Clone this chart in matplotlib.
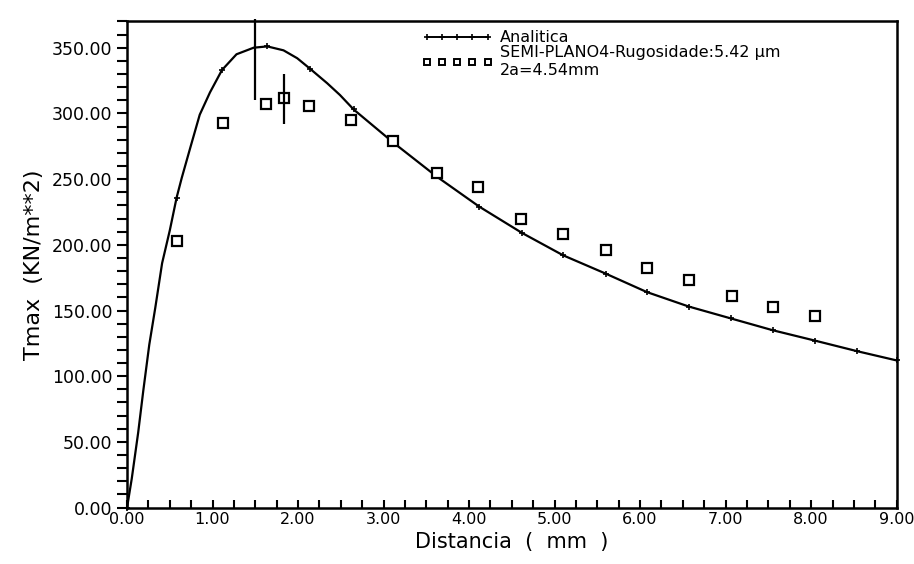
import matplotlib
matplotlib.use("Agg")
import matplotlib.pyplot as plt
from matplotlib.lines import Line2D
from matplotlib.ticker import MultipleLocator, FormatStrFormatter

# curva analitica
x_anal = [0.0, 0.055, 0.13, 0.19, 0.26, 0.33, 0.41, 0.50, 0.58, 0.64, 0.74, 0.85,
          0.97, 1.11, 1.28, 1.48, 1.64, 1.83, 1.99, 2.14, 2.34, 2.49, 2.65, 3.11,
          3.62, 4.12, 4.62, 5.10, 5.60, 6.08, 6.57, 7.06, 7.55, 8.05, 8.54, 9.00]
y_anal = [0, 22, 57, 89, 124, 152, 186, 211, 236, 251, 274, 299,
          316, 333, 345, 350, 351, 348, 342, 334, 323, 314, 303, 278,
          252, 229, 209, 192, 178, 164, 153, 144, 135, 127, 119, 112]
marcas_anal = [0, 8, 13, 16, 19, 22, 23, 24, 25, 26, 27, 28, 29, 30, 31, 32, 33, 34, 35]

# pontos experimentais SEMI-PLANO4
x_exp = [0.58, 1.12, 1.63, 1.83, 2.13, 2.62, 3.11, 3.62, 4.11, 4.61,
         5.10, 5.60, 6.08, 6.57, 7.07, 7.55, 8.05]
y_exp = [203, 293, 307, 312, 306, 295, 279, 255, 244, 220,
         208, 196, 182, 173, 161, 153, 146]

# barras verticais desenhadas no original
x_barra = [1.50, 1.83]
y_barra_min = [310, 292]
y_barra_max = [372, 330]

fig = plt.figure(figsize=(9.14, 5.64), dpi=100)
ax = fig.add_axes([0.139, 0.10, 0.842, 0.862])

ax.plot(x_anal, y_anal, color="black", lw=1.6, marker="+", ms=5, mew=1.2,
        markevery=marcas_anal, clip_on=False)
ax.plot(x_exp, y_exp, ls="none", marker="s", ms=6.5, mfc="white", mec="black",
        mew=1.6)
ax.vlines(x_barra, y_barra_min, y_barra_max, color="black", lw=1.6, clip_on=False)

ax.set_xlim(0, 9)
ax.set_ylim(0, 370)
ax.xaxis.set_major_locator(MultipleLocator(1))
ax.xaxis.set_minor_locator(MultipleLocator(0.25))
ax.yaxis.set_major_locator(MultipleLocator(50))
ax.yaxis.set_minor_locator(MultipleLocator(10))
ax.xaxis.set_major_formatter(FormatStrFormatter("%.2f"))
ax.yaxis.set_major_formatter(FormatStrFormatter("%.2f"))

ax.tick_params(axis="x", which="both", direction="in", length=6, width=1.5,
               labelsize=11.5, pad=3)
ax.tick_params(axis="y", which="both", direction="out", length=7, width=1.5,
               labelsize=12.5)
for s in ax.spines.values():
    s.set_linewidth(1.8)

ax.set_xlabel("Distancia  (  mm  )", fontsize=15, labelpad=4)
ax.set_ylabel("Tmax  (KN/m**2)", fontsize=16, labelpad=6)

h1 = Line2D([], [], color="black", lw=1.4, marker="+", ms=5, mew=1.2)
h2 = Line2D([], [], ls="none", marker="s", ms=5, mfc="white", mec="black", mew=1.4)
ax.legend([h1, h2], ["Analitica", "SEMI-PLANO4-Rugosidade:5.42 µm\n2a=4.54mm"],
          loc="upper left", bbox_to_anchor=(0.375, 0.995), frameon=False,
          numpoints=5, handlelength=4.4, handletextpad=0.5, labelspacing=0.0,
          fontsize=11.5, borderaxespad=0.0)

fig.savefig("out.png", dpi=100)
